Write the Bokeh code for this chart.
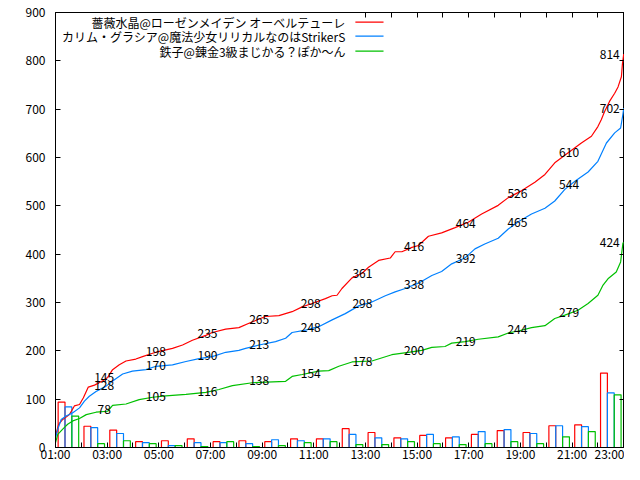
from bokeh.plotting import figure
from bokeh.models import Range1d, FixedTicker, LinearAxis, Label, CustomJSTickFormatter, ColumnDataSource
from bokeh.core.properties import value
from bokeh.embed import file_html
from bokeh.resources import INLINE

# ---- data ----
series_names = ["薔薇水晶@ローゼンメイデン オーベルテューレ",
                "カリム・グラシア@魔法少女リリカルなのはStrikerS",
                "鉄子@錬金3級まじかる？ぽか～ん"]
colors = ["#ff0000", "#0080ff", "#00c000"]

hours = list(range(1, 23))
red_counts = [94, 44, 36, 12, 14, 18, 12, 14, 12, 18, 18, 39, 31, 20, 25, 20, 27, 35, 31, 45, 47, 154]
blue_counts = [84, 41, 29, 10, 4, 10, 10, 8, 16, 14, 18, 27, 20, 18, 27, 22, 33, 37, 29, 45, 43, 113]
green_counts = [65, 8, 14, 8, 4, 2, 12, 2, 4, 10, 12, 6, 6, 12, 8, 6, 8, 12, 8, 22, 33, 109]

red_t = [1.00, 1.12, 1.28, 1.54, 1.73, 1.93, 2.08, 2.27, 2.51, 2.83, 3.02, 3.21, 3.47, 3.73, 4.11, 4.37,
         4.76, 5.02, 5.53, 5.92, 6.30, 6.82, 7.07, 7.59, 8.10, 8.49, 9.13, 9.65, 10.16, 10.55, 10.93,
         11.45, 11.71, 11.90, 12.09, 12.48, 12.86, 13.12, 13.51, 13.96, 14.15, 14.41, 14.80, 15.05,
         15.44, 15.95, 16.47, 16.98, 17.50, 18.14, 18.53, 19.04, 19.56, 19.95, 20.33, 20.85, 21.36,
         21.75, 22.00, 22.13, 22.26, 22.45, 22.65, 22.78, 22.91, 22.95, 23.00]
red_v = [24, 48, 58, 68, 86, 89, 103, 125, 129, 138, 145, 161, 171, 179, 183, 188,
         195, 199, 205, 212, 222, 232, 238, 245, 248, 257, 271, 273, 281, 291, 298,
         308, 314, 315, 329, 351, 360, 373, 387, 392, 405, 405, 414, 418,
         437, 444, 455, 466, 483, 501, 517, 531, 549, 565, 589, 610, 630,
         644, 664, 678, 695, 716, 733, 746, 767, 794, 814]

blue_t = [1.00, 1.09, 1.22, 1.41, 1.67, 1.93, 2.12, 2.31, 2.57, 2.96, 3.28, 3.60, 3.98, 4.50, 4.89,
          5.53, 6.05, 6.56, 7.07, 7.59, 8.10, 8.36, 8.88, 9.52, 9.91, 10.16, 10.68, 11.19, 11.71,
          12.22, 12.74, 13.25, 13.77, 14.15, 14.54, 15.05, 15.57, 15.95, 16.34, 16.85, 17.24, 17.62,
          18.14, 18.53, 18.92, 19.43, 19.95, 20.33, 20.72, 21.11, 21.62, 22.00, 22.33, 22.65, 22.88,
          22.97, 23.00]
blue_v = [20, 38, 58, 65, 72, 82, 96, 106, 116, 127, 140, 152, 158, 161, 168,
          171, 178, 184, 188, 197, 201, 205, 212, 219, 226, 238, 243, 250, 264,
          277, 293, 301, 314, 322, 329, 340, 356, 364, 380, 392, 411, 421,
          433, 452, 467, 483, 495, 510, 534, 551, 570, 592, 630, 651, 661,
          690, 702]

green_t = [1.00, 1.09, 1.28, 1.47, 1.67, 1.93, 2.19, 2.57, 3.02, 3.21, 3.73, 4.24, 4.76, 5.27, 6.05,
           6.82, 7.33, 7.85, 8.62, 9.91, 10.16, 10.55, 11.19, 11.58, 11.97, 12.48, 13.25, 14.02,
           14.66, 15.18, 15.57, 16.08, 16.34, 16.86, 17.37, 18.14, 18.53, 18.92, 19.43, 19.95,
           20.33, 20.72, 21.23, 21.62, 22.00, 22.20, 22.39, 22.71, 22.88, 22.97, 23.00]
green_v = [10, 27, 38, 48, 55, 60, 68, 73, 75, 87, 90, 99, 104, 107, 110,
           114, 120, 128, 134, 137, 147, 151, 158, 159, 168, 177, 179, 192,
           197, 201, 207, 209, 216, 219, 224, 229, 237, 241, 248, 252,
           267, 274, 284, 298, 315, 336, 349, 363, 384, 423, 424]

label_hours = [3, 5, 7, 9, 11, 13, 15, 17, 19, 21, 23]
red_labels = [145, 198, 235, 265, 298, 361, 416, 464, 526, 610, 814]
blue_labels = [128, 170, 190, 213, 248, 298, 338, 392, 465, 544, 702]
green_labels = [78, 105, 116, 138, 154, 178, 200, 219, 244, 279, 424]

y_ticks = list(range(0, 901, 100))
x_major = list(range(1, 24, 2))
x_minor = list(range(2, 23, 2))

FONT = "Noto Sans CJK JP"

p = figure(width=624, height=464, output_backend="svg", toolbar_location=None,
           x_range=Range1d(1.0, 23.03), y_range=Range1d(0, 900),
           min_border_left=55, min_border_right=0, min_border_top=12, min_border_bottom=14,
           background_fill_color="white", border_fill_color="white")
p.grid.visible = False
p.outline_line_color = "black"
p.outline_line_width = 1
p.outline_line_alpha = 1

fmt = CustomJSTickFormatter(code="return (tick < 10 ? '0' : '') + tick + ':00';")
for ax in p.xaxis:
    ax.ticker = FixedTicker(ticks=x_major, minor_ticks=x_minor)
    ax.formatter = fmt
    ax.major_label_standoff = -3
for ax in p.yaxis:
    ax.ticker = FixedTicker(ticks=y_ticks)
    ax.major_label_standoff = 10

for ax in p.xaxis + p.yaxis:
    ax.axis_line_color = "black"
    ax.major_tick_line_color = "black"
    ax.major_tick_in = 5
    ax.major_tick_out = 0
    ax.minor_tick_line_color = "black"
    ax.minor_tick_in = 5
    ax.minor_tick_out = 0
    ax.major_label_text_font = FONT
    ax.major_label_text_font_size = "12px"
    ax.major_label_text_color = "black"

# mirror ticks (minor ticks only, so no tick labels are drawn)
right_ax = LinearAxis(ticker=FixedTicker(ticks=[], minor_ticks=y_ticks), major_tick_in=0, major_tick_out=0,
                      minor_tick_in=5, minor_tick_out=0, minor_tick_line_color="black",
                      major_label_standoff=0, axis_line_color="black")
p.add_layout(right_ax, "right")
top_ax = LinearAxis(ticker=FixedTicker(ticks=[], minor_ticks=list(range(13, 24))), major_tick_in=0,
                    major_tick_out=0, minor_tick_in=5, minor_tick_out=0, minor_tick_line_color="black",
                    major_label_standoff=0, axis_line_color="black")
p.add_layout(top_ax, "above")

# hourly bars
bar_w = 0.265
for counts, col, off in [(red_counts, colors[0], 0.235), (blue_counts, colors[1], 0.5),
                         (green_counts, colors[2], 0.765)]:
    src = ColumnDataSource(dict(x=[h + off for h in hours], top=counts))
    p.vbar(x="x", top="top", width=bar_w, bottom=0, source=src,
           fill_color=None, line_color=col, line_width=1.2)

# cumulative lines
for ts, vs, col in [(red_t, red_v, colors[0]), (blue_t, blue_v, colors[1]), (green_t, green_v, colors[2])]:
    p.line(ts, vs, line_color=col, line_width=1.2)

# value labels
for labs in [red_labels, blue_labels, green_labels]:
    src = ColumnDataSource(dict(x=label_hours[:-1], y=labs[:-1], t=[str(v) for v in labs[:-1]]))
    p.text(x="x", y="y", text="t", source=src, text_align="center", text_baseline="middle",
           x_offset=-3, text_font=value(FONT), text_font_size="12px", text_color="black")
    src2 = ColumnDataSource(dict(x=label_hours[-1:], y=labs[-1:], t=[str(labs[-1])]))
    p.text(x="x", y="y", text="t", source=src2, text_align="right", text_baseline="middle",
           x_offset=-4, text_font=value(FONT), text_font_size="12px", text_color="black")

# key (text right-aligned, sample line to its right), top left
key_right = 12.23
key_rows = [880, 851, 820]
sample_x0, sample_x1 = 12.61, 13.70
for name, col, ky in zip(series_names, colors, key_rows):
    p.add_layout(Label(x=key_right, y=ky, text=name, text_align="right", text_baseline="middle",
                       text_font=FONT, text_font_size="12px", text_color="black"))
    p.segment(x0=[sample_x0], y0=[ky], x1=[sample_x1], y1=[ky], line_color=col, line_width=1.2)

open("out.html", "w").write(file_html(p, INLINE))
